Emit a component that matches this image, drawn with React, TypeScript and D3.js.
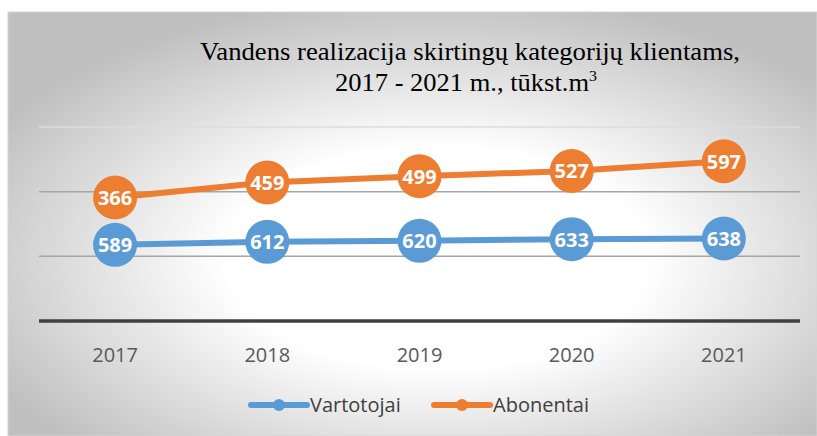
import React from 'react';
import * as d3 from 'd3';

const years = ['2017', '2018', '2019', '2020', '2021'];
const vartotojai = [589, 612, 620, 633, 638];
const abonentai = [366, 459, 499, 527, 597];
const seriesNames = ['Vartotojai', 'Abonentai'];
const seriesColors = ['#5B9BD5', '#ED7D31'];
const gridTicks = [0, 500, 1000, 1500];

export default function App() {
  const width = 817;
  const height = 436;
  const plot = { left: 39, right: 800, top: 127, bottom: 321 };

  const rows = years.map((y, i) => ({ year: y, Vartotojai: vartotojai[i], Abonentai: abonentai[i] }));
  const stacked = d3.stack<any>().keys(seriesNames)(rows);

  const x = d3.scaleBand().domain(years).range([plot.left, plot.right]);
  const y = d3.scaleLinear().domain([0, 1500]).range([plot.bottom, plot.top]);

  const line = d3.line<any>()
    .x((d) => x(d.data.year)! + x.bandwidth() / 2)
    .y((d) => y(d[1]));

  const raw = [vartotojai, abonentai];
  const serif = "'Liberation Serif', 'Times New Roman', serif";

  return (
    <svg width={width} height={height} style={{ position: 'absolute', left: 0, top: 0, display: 'block' }}>
      <defs>
        <radialGradient id="bg" cx="0.53" cy="0.58" r="0.62">
          <stop offset="0" stopColor="#ffffff" />
          <stop offset="0.42" stopColor="#ffffff" />
          <stop offset="1" stopColor="#c0c0c0" />
        </radialGradient>
      </defs>
      <rect x={0} y={0} width={width} height={height} fill="#ffffff" />
      <rect x={8} y={12} width={width - 8} height={height - 12} fill="url(#bg)" stroke="#d4d4d4" strokeWidth={1} />

      <text x={200} y={60} textLength={540} lengthAdjust="spacingAndGlyphs" fontFamily={serif} fontSize={25} fill="#000">
        Vandens realizacija skirtingų kategorijų klientams,
      </text>
      <text x={335} y={91} textLength={262} lengthAdjust="spacingAndGlyphs" fontFamily={serif} fontSize={25} fill="#000">
        2017 - 2021 m., tūkst.m<tspan fontSize={15} dy={-10}>3</tspan>
      </text>

      {gridTicks.slice(1).map((t) => (
        <line key={t} x1={plot.left} x2={plot.right} y1={y(t)} y2={y(t)}
          stroke={t === 1500 ? '#dcdcdc' : '#a6a6a6'} strokeWidth={1.5} />
      ))}
      <line x1={plot.left} x2={plot.right} y1={y(0)} y2={y(0)} stroke="#404040" strokeWidth={3.5} />

      {years.map((yr) => (
        <text key={yr} x={x(yr)! + x.bandwidth() / 2} y={362} textAnchor="middle"
          fontFamily="'Open Sans', sans-serif" fontSize={20} fill="#595959">{yr}</text>
      ))}

      {stacked.map((s, si) => (
        <g key={s.key}>
          <path d={line(s as any)!} fill="none" stroke={seriesColors[si]} strokeWidth={6} strokeLinejoin="round" />
          {s.map((d: any, i: number) => {
            const cx = x(d.data.year)! + x.bandwidth() / 2;
            const cy = y(d[1]);
            return (
              <g key={i}>
                <circle cx={cx} cy={cy} r={22} fill={seriesColors[si]} />
                <text x={cx} y={cy + 7.5} textAnchor="middle" fontFamily="'Open Sans', sans-serif"
                  fontWeight="bold" fontSize={20} fill="#ffffff">{raw[si][i]}</text>
              </g>
            );
          })}
        </g>
      ))}

      {seriesNames.map((name, i) => {
        const lx = 251 + i * 183;
        return (
          <g key={name}>
            <line x1={lx} x2={lx + 56} y1={405} y2={405} stroke={seriesColors[i]} strokeWidth={6} strokeLinecap="round" />
            <circle cx={lx + 28} cy={405} r={6} fill={seriesColors[i]} />
            <text x={lx + 59} y={412} fontFamily="'Open Sans', sans-serif" fontSize={20} fill="#404040">{name}</text>
          </g>
        );
      })}
    </svg>
  );
}
